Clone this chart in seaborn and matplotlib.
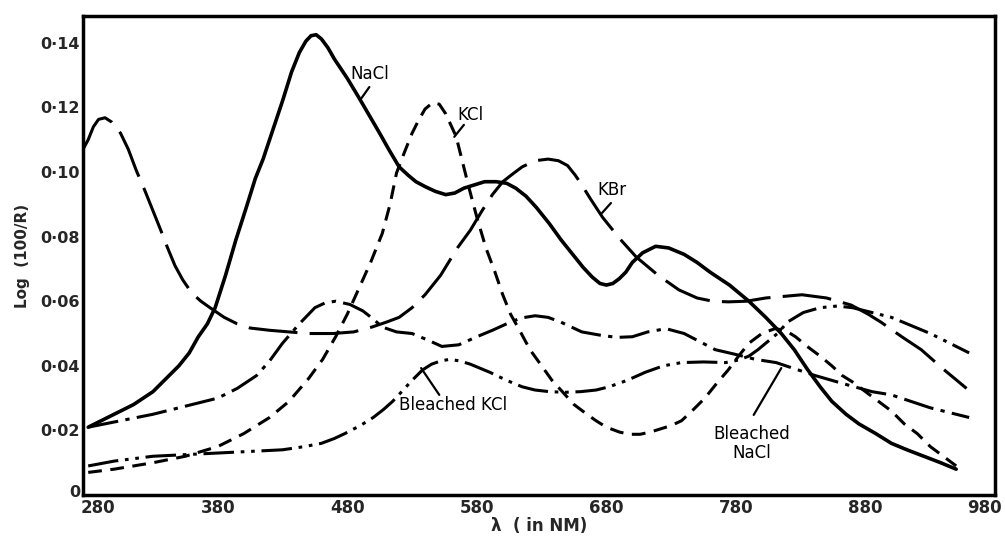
import matplotlib
matplotlib.use("Agg")
import matplotlib.pyplot as plt
import matplotlib.transforms as mtransforms
import seaborn as sns
import pandas as pd

# ---- data ----
nacl_x = [280, 290, 300, 315, 330, 340, 350, 358, 365, 372, 378, 386, 394, 402, 409, 415, 420,
          425, 430, 437, 443, 448, 452, 456, 460, 465, 470, 480, 489, 497, 505, 512, 520, 527,
          533, 540, 548, 556, 563, 570, 578, 586, 595, 603, 610, 618, 626, 636, 645, 655, 662,
          669, 675, 680, 685, 690, 695, 700, 708, 718, 728, 740, 750, 760, 775, 790, 803, 815,
          825, 835, 845, 854, 865, 875, 888, 900, 912, 925, 938, 950]
nacl_y = [0.021, 0.023, 0.025, 0.028, 0.032, 0.036, 0.040, 0.044, 0.049, 0.053, 0.058, 0.068,
          0.079, 0.089, 0.098, 0.104, 0.110, 0.116, 0.122, 0.131, 0.137, 0.1405, 0.1422, 0.1425,
          0.1412, 0.1385, 0.135, 0.129, 0.123, 0.1175, 0.112, 0.107, 0.1016, 0.099, 0.097,
          0.0955, 0.094, 0.093, 0.0935, 0.095, 0.096, 0.097, 0.097, 0.0965, 0.095, 0.0925, 0.089,
          0.084, 0.079, 0.074, 0.0705, 0.0675, 0.0655, 0.065, 0.0655, 0.067, 0.069, 0.072, 0.075,
          0.077, 0.0765, 0.0745, 0.072, 0.069, 0.065, 0.060, 0.055, 0.050, 0.045, 0.039, 0.0335,
          0.029, 0.025, 0.022, 0.019, 0.016, 0.014, 0.012, 0.010, 0.008]

kcl_x = [280, 300, 330, 355, 380, 400, 420, 435, 450, 461, 471, 480, 489, 498, 507, 513, 518,
         524, 530, 535, 540, 546, 551, 556, 560, 564, 569, 574, 580, 587, 594, 600, 606, 613,
         621, 630, 638, 646, 655, 665, 672, 680, 690, 698, 706, 714, 722, 730, 738, 746, 756,
         765, 774, 782, 790, 800, 810, 818, 826, 835, 845, 854, 862, 870, 880, 890, 900, 910,
         920, 930, 940, 950]
kcl_y = [0.007, 0.008, 0.010, 0.012, 0.015, 0.019, 0.024, 0.029, 0.036, 0.042, 0.049, 0.056,
         0.064, 0.072, 0.081, 0.090, 0.0997, 0.106, 0.112, 0.116, 0.1195, 0.1215, 0.121, 0.118,
         0.1145, 0.111, 0.103, 0.095, 0.086, 0.0765, 0.069, 0.062, 0.056, 0.051, 0.045, 0.040,
         0.0355, 0.032, 0.028, 0.025, 0.023, 0.021, 0.0195, 0.0188, 0.0188, 0.0195, 0.0205,
         0.0215, 0.023, 0.026, 0.030, 0.0345, 0.0387, 0.043, 0.047, 0.050, 0.0515, 0.051, 0.049,
         0.046, 0.043, 0.040, 0.037, 0.035, 0.032, 0.029, 0.026, 0.022, 0.019, 0.015, 0.012,
         0.009]

kbr_x = [276, 280, 284, 288, 293, 298, 305, 311, 317, 324, 330, 336, 341, 347, 353, 360, 367,
         374, 385, 395, 405, 420, 435, 450, 469, 485, 499, 510, 520, 530, 540, 552, 565, 575,
         584, 592, 600, 608, 615, 625, 635, 643, 650, 656, 661, 668, 677, 690, 703, 720, 736,
         750, 762, 774, 788, 803, 817, 831, 850, 869, 882, 892, 908, 923, 940, 958]
kbr_y = [0.107, 0.110, 0.114, 0.1163, 0.1168, 0.1155, 0.112, 0.107, 0.1006, 0.094, 0.088,
         0.082, 0.0768, 0.071, 0.0666, 0.0625, 0.060, 0.058, 0.055, 0.053, 0.0517, 0.051,
         0.0505, 0.050, 0.050, 0.0505, 0.052, 0.0535, 0.055, 0.058, 0.062, 0.068, 0.0765, 0.082,
         0.088, 0.093, 0.097, 0.0995, 0.1016, 0.1035, 0.104, 0.1035, 0.102, 0.099, 0.096,
         0.0915, 0.086, 0.0795, 0.0737, 0.068, 0.0635, 0.061, 0.060, 0.0598, 0.060, 0.061,
         0.0615, 0.062, 0.061, 0.0588, 0.056, 0.0535, 0.049, 0.045, 0.039, 0.033]

bkcl_x = [280, 300, 330, 355, 380, 405, 430, 447, 460, 470, 478, 490, 500, 508, 515, 522, 530,
          538, 545, 552, 559, 567, 575, 590, 603, 615, 625, 636, 648, 660, 672, 682, 696, 710,
          724, 738, 755, 772, 782, 790, 797, 803, 812, 820, 832, 845, 858, 870, 885, 900, 915,
          930, 945, 960]
bkcl_y = [0.009, 0.0105, 0.012, 0.0125, 0.013, 0.0135, 0.014, 0.015, 0.016, 0.0175, 0.019,
          0.0215, 0.024, 0.0265, 0.029, 0.032, 0.0355, 0.0387, 0.0405, 0.0415, 0.042, 0.0415,
          0.0405, 0.038, 0.0355, 0.0335, 0.0325, 0.032, 0.0318, 0.032, 0.0325, 0.0335, 0.0355,
          0.038, 0.040, 0.041, 0.0412, 0.041, 0.0418, 0.043, 0.045, 0.047, 0.050, 0.0536,
          0.0565, 0.058, 0.0585, 0.058, 0.0565, 0.055, 0.0525, 0.050, 0.047, 0.044]

bnacl_x = [280, 305, 330, 355, 380, 395, 410, 420, 430, 443, 455, 463, 471, 482, 492, 500, 507,
           518, 530, 542, 553, 566, 580, 592, 603, 614, 625, 635, 645, 653, 661, 675, 688, 700,
           712, 726, 740, 752, 764, 780, 795, 811, 826, 841, 854, 867, 885, 900, 915, 930, 945,
           960]
bnacl_y = [0.021, 0.023, 0.025, 0.0275, 0.030, 0.033, 0.037, 0.0415, 0.047, 0.053, 0.058,
           0.0595, 0.060, 0.059, 0.057, 0.0545, 0.052, 0.0505, 0.050, 0.048, 0.046, 0.0465,
           0.049, 0.051, 0.053, 0.0548, 0.0555, 0.055, 0.0535, 0.052, 0.0505, 0.0495, 0.0488,
           0.049, 0.0505, 0.0515, 0.050, 0.0475, 0.045, 0.0435, 0.042, 0.041, 0.039, 0.037,
           0.0355, 0.034, 0.032, 0.031, 0.029, 0.027, 0.0255, 0.024]

x_ticks = [280, 380, 480, 580, 680, 780, 880, 980]
x_tick_labels = ["280", "380", "480", "580", "680", "780", "880", "980"]
y_ticks = [0, 0.02, 0.04, 0.06, 0.08, 0.10, 0.12, 0.14]
y_tick_labels = ["0", "0·02", "0·04", "0·06", "0·08", "0·10", "0·12", "0·14"]

series = [
    ("NaCl", nacl_x, nacl_y, "-", 2.6),
    ("KCl", kcl_x, kcl_y, (0, (4.5, 2.8)), 2.2),
    ("KBr", kbr_x, kbr_y, (0, (16, 4)), 2.2),
    ("Bleached KCl", bkcl_x, bkcl_y, (0, (10, 2.2, 1.2, 2.2, 1.2, 2.2)), 2.2),
    ("Bleached NaCl", bnacl_x, bnacl_y, (0, (10, 2.4, 1.4, 2.4)), 2.2),
]

sns.set_style("white")
plt.rcParams["font.family"] = ["DejaVu Sans"]

fig = plt.figure(figsize=(10.05, 5.39), dpi=100)
ax = fig.add_axes([0.0826, 0.0816, 0.9075, 0.8887])

for name, xs, ys, ls, lw in series:
    df = pd.DataFrame({"x": xs, "y": ys})
    sns.lineplot(data=df, x="x", y="y", ax=ax, color="black", linewidth=lw,
                 linestyle=ls, estimator=None, sort=True)

ax.set_xlim(276, 980)
ax.set_ylim(0, 0.1483)
ax.set_xticks(x_ticks)
ax.set_xticklabels(x_tick_labels, fontsize=12, fontweight="bold")
ax.set_yticks(y_ticks)
ax.set_yticklabels(y_tick_labels, fontsize=11.5, fontweight="bold")
ax.tick_params(axis="x", direction="in", length=11, width=2, pad=3)
ax.tick_params(axis="y", direction="in", length=9, width=2, pad=2)
for sp in ax.spines.values():
    sp.set_visible(True)
    sp.set_linewidth(2.5)
    sp.set_color("black")

# nudge the end labels inward like the reference
xlabs = ax.get_xticklabels()
xlabs[0].set_transform(xlabs[0].get_transform() +
                       mtransforms.ScaledTranslation(10 / 100, 0, fig.dpi_scale_trans))
xlabs[-1].set_transform(xlabs[-1].get_transform() +
                        mtransforms.ScaledTranslation(-11 / 100, 0, fig.dpi_scale_trans))
ylabs = ax.get_yticklabels()
ylabs[0].set_transform(ylabs[0].get_transform() +
                       mtransforms.ScaledTranslation(0, 4 / 100, fig.dpi_scale_trans))

ax.set_xlabel("λ  ( in NM)", fontsize=12, fontweight="bold", labelpad=0)
ax.set_ylabel("Log  (100/R)", fontsize=11, fontweight="bold", labelpad=8)

# curve labels with pointer strokes
lab_kw = dict(fontsize=12, color="black")
ax.text(482, 0.1305, "NaCl", ha="left", va="center", **lab_kw)
ax.plot([497, 491], [0.1263, 0.1229], color="black", lw=1.6)
ax.text(565, 0.1175, "KCl", ha="left", va="center", **lab_kw)
ax.plot([570, 562.6], [0.1146, 0.1109], color="black", lw=1.6)
ax.text(673, 0.0945, "KBr", ha="left", va="center", **lab_kw)
ax.plot([683.5, 676.6], [0.0904, 0.0873], color="black", lw=1.6)
ax.text(520, 0.0279, "Bleached KCl", ha="left", va="center", **lab_kw)
ax.plot([551, 537], [0.031, 0.0393], color="black", lw=1.6)
ax.text(792, 0.016, "Bleached\nNaCl", ha="center", va="center", linespacing=1.1, **lab_kw)
ax.plot([793.7, 815], [0.0248, 0.0393], color="black", lw=1.6)

fig.savefig("out.png", dpi=100)
